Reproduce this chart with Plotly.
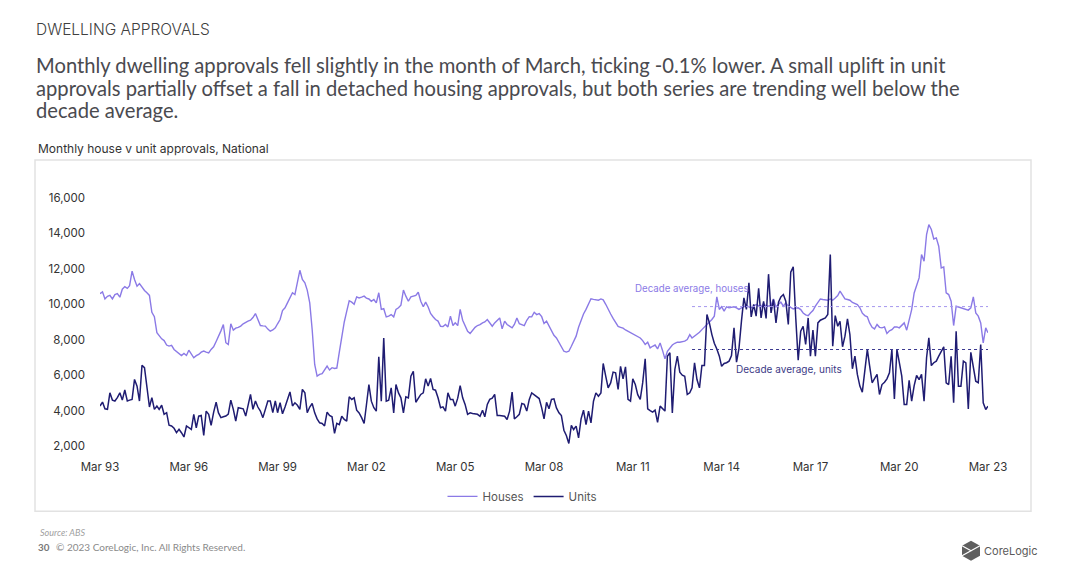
import pandas as pd
import plotly.graph_objects as go

# ---------------- data (monthly, Mar 1993 .. Mar 2023) ----------------
start_month = "1993-03-01"

houses = [
    10600, 10700, 10300, 10450, 10500, 10300, 10550, 10600, 10400, 10850, 11000, 10900,
    11050, 11870, 11400, 11020, 11170, 10950, 10780, 10650, 10500, 9550, 9300, 8400,
    8200, 8050, 7950, 7700, 7640, 7680, 7450, 7320, 7200, 7110, 7230, 7110,
    7410, 7200, 6980, 7100, 7170, 7300, 7360, 7300, 7260, 7450, 7600, 7900,
    8150, 8500, 8860, 7830, 7730, 8900, 8540, 8650, 8700, 8770, 8900, 9000,
    9050, 9100, 9250, 9480, 9150, 8800, 8780, 8770, 8600, 8480, 8550, 8670,
    8900, 9140, 9650, 9800, 10080, 10400, 10650, 10550, 11200, 11920, 11400, 11210,
    10800, 10080, 8580, 6600, 5950, 6040, 6080, 6300, 6510, 6290, 6420, 6380,
    6400, 7300, 8250, 9000, 9600, 10200, 10120, 10000, 10420, 10360, 10400, 10460,
    10350, 10300, 10170, 10270, 10080, 10650, 9710, 9750, 9290, 9330, 9420, 9290,
    9710, 9800, 9950, 10800, 10460, 10170, 10420, 10450, 10500, 10680, 10170, 9860,
    10120, 9850, 9480, 9300, 9140, 9050, 8760, 8740, 8860, 8720, 9330, 8800,
    8950, 8800, 9710, 9100, 8800, 8480, 8350, 8550, 8700, 8800, 8850, 8950,
    9000, 9140, 8950, 8760, 8950, 9100, 9230, 8610, 9050, 8860, 8750, 8670,
    8860, 9230, 8900, 8860, 8800, 9100, 9300, 9290, 9550, 9420, 9480, 9300,
    8910, 9050, 8800, 8500, 8250, 8100, 7820, 7550, 7350, 7300, 7350, 7630,
    7900, 8200, 8700, 9100, 9450, 9710, 10000, 10310, 10280, 10260, 10230, 10300,
    10250, 10000, 9700, 9450, 9200, 8950, 8750, 8700, 8650, 8550, 8480, 8400,
    8330, 8260, 8180, 8100, 7950, 7730, 7860, 7540, 7630, 7700, 7480, 7820,
    7410, 6920, 7350, 7540, 7700, 7800, 7860, 7860, 7900, 7920, 8010, 8290,
    8100, 8200, 8290, 8420, 8570, 8700, 8860, 9000, 9140, 9330, 10420, 9710,
    9860, 9610, 9860, 9800, 9830, 9860, 9800, 9710, 9800, 9860, 9930, 9850,
    9800, 9900, 9990, 9920, 9860, 10040, 9890, 9900, 9930, 10300, 9850, 10000,
    10120, 9890, 10080, 9900, 9800, 9740, 9780, 9800, 9700, 9510, 9400, 9360,
    9510, 9650, 9900, 10100, 10300, 10270, 10250, 10230, 10300, 10230, 10350, 10490,
    10740, 10500, 10300, 10270, 10230, 10100, 10040, 9980, 9800, 9500, 9360, 9290,
    8950, 8700, 8610, 8860, 8700, 8670, 8720, 8350, 8500, 8570, 8720, 8720,
    8670, 8800, 8950, 8540, 9200, 9700, 10640, 11100, 11490, 12810, 12430, 13940,
    14500, 14220, 13690, 13750, 13280, 12050, 12110, 10640, 10550, 10170, 8800, 9890,
    9850, 9800, 9740, 9700, 9670, 9800, 10420, 9510, 9330, 8950, 7820, 8670,
    8390,
]

units = [
    4260, 4480, 4100, 4070, 5000, 4590, 4540, 4730, 5000, 4590, 5160, 4540,
    4590, 4630, 5760, 5380, 4540, 6550, 6420, 5200, 4200, 4730, 4070, 4260,
    4070, 4300, 3790, 3880, 3170, 3130, 3000, 2750, 2940, 2750, 2510, 3130,
    3030, 2940, 3790, 3030, 3690, 3730, 2600, 3970, 3790, 3170, 3900, 4480,
    3880, 3600, 3650, 3690, 3800, 4590, 4070, 3410, 4160, 4150, 4100, 3690,
    4300, 4910, 4070, 4540, 4200, 3970, 3600, 4100, 4540, 4540, 3880, 4540,
    3880, 4440, 3820, 4200, 4630, 5050, 4260, 4440, 4300, 4070, 5200, 5000,
    3880, 4200, 4400, 3870, 3530, 3310, 3270, 3130, 3910, 3720, 3650, 2710,
    3280, 3210, 3680, 3500, 3400, 4780, 4630, 4720, 4020, 3870, 3600, 3270,
    4300, 5470, 4530, 4160, 3970, 7030, 4530, 8100, 4530, 4590, 5280, 3870,
    5470, 5000, 4720, 3870, 4780, 4720, 5940, 6220, 4470, 4700, 4910, 5000,
    5790, 5380, 5810, 5190, 5150, 4720, 4160, 4210, 3970, 5000, 4630, 4630,
    4250, 4700, 5410, 4720, 4350, 3790, 3870, 3830, 3790, 3790, 3680, 4020,
    3650, 4350, 4630, 4700, 4910, 3720, 3720, 3700, 3680, 3500, 3970, 5040,
    3530, 3650, 3790, 4400, 4350, 3970, 4630, 5000, 4900, 4810, 4680, 4150,
    3530, 4470, 4100, 4630, 4660, 4150, 3870, 3720, 2890, 2590, 2140, 3160,
    2930, 3120, 2460, 3530, 4020, 3210, 3970, 3310, 4530, 5000, 4810, 5000,
    6660, 5940, 5280, 5560, 6170, 6130, 5190, 6500, 5790, 6470, 4630, 4530,
    5790, 5470, 4900, 4630, 5560, 6920, 4100, 4000, 3910, 4020, 3340, 4250,
    4100, 3970, 7070, 7260, 3870, 6320, 7070, 6170, 6000, 5940, 4910, 5000,
    5280, 6690, 5750, 5280, 6550, 6550, 9420, 8950, 8290, 7800, 7480, 7070,
    6500, 6660, 6700, 6790, 7110, 8670, 6730, 7500, 9050, 10360, 9710, 11210,
    9290, 9990, 9330, 10900, 9230, 10170, 9200, 11700, 9510, 10270, 8950, 10120,
    10420, 10550, 10170, 8860, 11810, 12110, 9230, 6840, 8480, 8760, 7730, 9230,
    7070, 8540, 7070, 8950, 9100, 9180, 9230, 9420, 12810, 7630, 9360, 8760,
    9040, 7600, 8200, 9180, 8290, 6360, 7070, 6040, 5380, 5040, 6200, 7450,
    6540, 5570, 5800, 6040, 4910, 5470, 5600, 5790, 6130, 7450, 4660, 7450,
    6730, 5940, 4340, 4340, 5710, 4530, 5410, 5980, 5750, 6040, 4530, 6980,
    8100, 6540, 6700, 6790, 7070, 7300, 7600, 5570, 5470, 7070, 4440, 8480,
    5380, 5380, 6790, 6690, 4090, 7290, 6320, 5660, 5570, 7730, 4440, 4060,
    4250,
]

decade_period = ["2013-03-01", "2023-03-01"]
houses_decade_avg = [9870, 9870]
units_decade_avg = [7450, 7450]

x_tick_dates = ["1993-03-01", "1996-03-01", "1999-03-01", "2002-03-01", "2005-03-01",
                "2008-03-01", "2011-03-01", "2014-03-01", "2017-03-01", "2020-03-01",
                "2023-03-01"]
x_tick_labels = ["Mar 93", "Mar 96", "Mar 99", "Mar 02", "Mar 05", "Mar 08",
                 "Mar 11", "Mar 14", "Mar 17", "Mar 20", "Mar 23"]
y_tick_vals = [2000, 4000, 6000, 8000, 10000, 12000, 14000, 16000]

dates = pd.date_range(start_month, periods=len(houses), freq="MS")

# ---------------- styling ----------------
HOUSE_C = "#8b7ae6"
UNIT_C = "#1f1c72"
OFF = 8                      # page body margin of the html page
FIG_W, FIG_H = 1080 - OFF, 568 - OFF
L, R, T, B = 100, 988, 198, 446.5   # plot area in page pixels


def px(x):
    return (x - L) / (R - L)


def py(y):
    return (B - y) / (B - T)


fig = go.Figure()
fig.add_trace(go.Scatter(x=dates, y=houses, name="Houses", mode="lines",
                         line=dict(color=HOUSE_C, width=1.4)))
fig.add_trace(go.Scatter(x=dates, y=units, name="Units", mode="lines",
                         line=dict(color=UNIT_C, width=1.5)))
fig.add_trace(go.Scatter(x=decade_period, y=houses_decade_avg, mode="lines",
                         showlegend=False, hoverinfo="skip",
                         line=dict(color="#a597ee", width=1, dash="dot")))
fig.add_trace(go.Scatter(x=decade_period, y=units_decade_avg, mode="lines",
                         showlegend=False, hoverinfo="skip",
                         line=dict(color="#3b3890", width=1.1, dash="dot")))

tick_font = dict(family="Inter, Lato, sans-serif", size=11.5, color="#333333")

fig.update_layout(
    width=FIG_W, height=FIG_H,
    margin=dict(l=L - OFF, r=FIG_W - (R - OFF), t=T - OFF, b=FIG_H - (B - OFF)),
    paper_bgcolor="white", plot_bgcolor="white",
    showlegend=True,
    legend=dict(orientation="h", x=px(522), y=py(497), xanchor="center", yanchor="middle",
                font=dict(family="Inter, Lato, sans-serif", size=11.5, color="#555555"),
                bgcolor="rgba(0,0,0,0)", itemwidth=30, tracegroupgap=0),
    xaxis=dict(type="date", range=[dates[0], dates[-1]], showgrid=False, zeroline=False,
               showline=False, ticks="", tickvals=x_tick_dates, ticktext=x_tick_labels,
               tickfont=tick_font, ticklabelstandoff=12),
    yaxis=dict(range=[2000, 16000], showgrid=False, zeroline=False, showline=False,
               ticks="", tickvals=y_tick_vals, tickformat=",", tickfont=tick_font,
               ticklabelstandoff=14),
)

shapes = [
    dict(type="rect", xref="paper", yref="paper", x0=px(35), x1=px(1031), y0=py(512), y1=py(160),
         line=dict(color="#e2e2e2", width=1.5), fillcolor="rgba(0,0,0,0)", layer="below"),
    # logo icon
    dict(type="path", xref="paper", yref="paper",
         path=("M {a},{b} L {c},{d} L {e},{f} L {g},{h} L {i},{j} L {k},{l} Z").format(
             a=px(971), b=py(541.5), c=px(980), d=py(546.5), e=px(980), f=py(556.5),
             g=px(971), h=py(561.5), i=px(962), j=py(556.5), k=px(962), l=py(546.5)),
         fillcolor="#5f5f5f", line=dict(width=0)),
    dict(type="path", xref="paper", yref="paper",
         path="M {a},{b} L {c},{d} L {e},{f}".format(
             a=px(962), b=py(546.5), c=px(971), d=py(551.5), e=px(962), f=py(556.5)),
         line=dict(color="white", width=1.2)),
    dict(type="path", xref="paper", yref="paper",
         path="M {a},{b} L {c},{d}".format(a=px(971), b=py(551.5), c=px(980), d=py(546.5)),
         line=dict(color="white", width=1.2)),
]

headline_font = dict(family="Lato, sans-serif", size=20.2, color="#4a4a4f")
annotations = [
    dict(text="DWELLING APPROVALS", x=px(34), y=py(29), xanchor="left", yanchor="middle",
         font=dict(family="Inter, Lato, sans-serif", size=15.5, color="#404040", weight=300)),
    dict(text="Monthly dwelling approvals fell slightly in the month of March, ticking -0.1% lower. A small uplift in unit",
         x=px(34), y=py(65), xanchor="left", yanchor="middle", font=headline_font),
    dict(text="approvals partially offset a fall in detached housing approvals, but both series are trending well below the",
         x=px(34), y=py(88), xanchor="left", yanchor="middle", font=headline_font),
    dict(text="decade average.",
         x=px(34), y=py(110), xanchor="left", yanchor="middle", font=headline_font),
    dict(text="Monthly house v unit approvals, National", x=px(36), y=py(148), xanchor="left",
         yanchor="middle", font=dict(family="Inter, Lato, sans-serif", size=12, color="#333333")),
    dict(text="Decade average, houses", x="2015-03-01", y=10890, xref="x", yref="y",
         xanchor="right", yanchor="middle", showarrow=False,
         font=dict(family="Inter, Lato, sans-serif", size=9.7, color=HOUSE_C)),
    dict(text="Decade average, units", x="2014-08-01", y=6370, xref="x", yref="y",
         xanchor="left", yanchor="middle", showarrow=False,
         font=dict(family="Inter, Lato, sans-serif", size=10, color="#3c3a86")),
    dict(text="<i>Source: ABS</i>", x=px(38), y=py(533), xanchor="left", yanchor="middle",
         font=dict(family="Lato, sans-serif", size=9, color="#a0a0a0")),
    dict(text="<b>30</b>", x=px(36), y=py(548), xanchor="left", yanchor="middle",
         font=dict(family="Lato, sans-serif", size=9.8, color="#777777")),
    dict(text="© 2023 CoreLogic, Inc. All Rights Reserved.", x=px(54), y=py(548),
         xanchor="left", yanchor="middle",
         font=dict(family="Lato, sans-serif", size=10, color="#8a8a8a")),
    dict(text="CoreLogic", x=px(982), y=py(552), xanchor="left", yanchor="middle",
         font=dict(family="Inter, Lato, sans-serif", size=11, color="#5a5a5a")),
]
for a in annotations:
    a.setdefault("xref", "paper")
    a.setdefault("yref", "paper")
    a.setdefault("showarrow", False)

fig.update_layout(shapes=shapes, annotations=annotations)
fig.write_html("out.html")
